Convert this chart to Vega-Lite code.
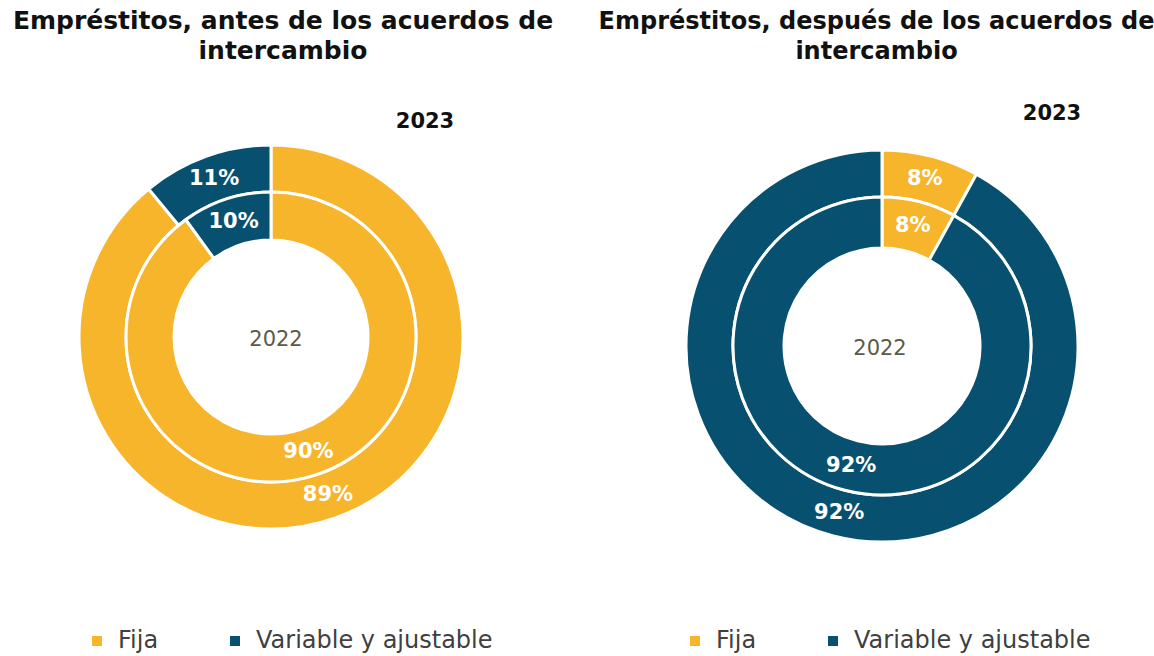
{
  "$schema": "https://vega.github.io/schema/vega-lite/v6.json",
  "background": "white",
  "padding": {"left": 12, "top": 9, "right": 0, "bottom": 0},
  "data": {"values": [
    {"panel": "antes", "year": 2023, "tipo": "Fija", "share": 0.89},
    {"panel": "antes", "year": 2023, "tipo": "Variable y ajustable", "share": 0.11},
    {"panel": "antes", "year": 2022, "tipo": "Fija", "share": 0.90},
    {"panel": "antes", "year": 2022, "tipo": "Variable y ajustable", "share": 0.10},
    {"panel": "despues", "year": 2023, "tipo": "Fija", "share": 0.08},
    {"panel": "despues", "year": 2023, "tipo": "Variable y ajustable", "share": 0.92},
    {"panel": "despues", "year": 2022, "tipo": "Fija", "share": 0.08},
    {"panel": "despues", "year": 2022, "tipo": "Variable y ajustable", "share": 0.92}
  ]},
  "spacing": 44,
  "hconcat": [
    {
      "title": {"text": ["Empréstitos, antes de los acuerdos de", "intercambio"], "dx": 0, "offset": 47},
      "vconcat": [
        {
          "title": {"text": "2023", "dx": 154, "fontSize": 21, "offset": 7, "lineHeight": 22},
          "width": 384,
          "height": 384,
          "transform": [{"filter": "datum.panel === 'antes'"}],
          "layer": [
            {
              "transform": [{"filter": "datum.year === 2023"}],
              "mark": {"type": "arc", "radius": 192, "radius2": 145, "stroke": "white", "strokeWidth": 3},
              "encoding": {
                "theta": {"field": "share", "type": "quantitative", "stack": true},
                "color": {"field": "tipo", "type": "nominal", "scale": {"domain": ["Fija", "Variable y ajustable"], "range": ["#F7B52B", "#08506F"]}, "legend": {"title": null, "orient": "none", "legendX": 6, "legendY": 484}},
                "order": {"field": "tipo"}
              }
            },
            {
              "transform": [{"filter": "datum.year === 2022"}],
              "mark": {"type": "arc", "radius": 145, "radius2": 97, "stroke": "white", "strokeWidth": 3},
              "encoding": {
                "theta": {"field": "share", "type": "quantitative", "stack": true},
                "color": {"field": "tipo", "type": "nominal", "scale": {"domain": ["Fija", "Variable y ajustable"], "range": ["#F7B52B", "#08506F"]}, "legend": {"title": null, "orient": "none", "legendX": 6, "legendY": 484}},
                "order": {"field": "tipo"}
              }
            },
            {
              "transform": [{"filter": "datum.year === 2023"}],
              "mark": {"type": "text", "radius": 168, "fontSize": 21, "fontWeight": "bold", "color": "white"},
              "encoding": {
                "theta": {"field": "share", "type": "quantitative", "stack": true},
                "detail": {"field": "tipo"},
                "order": {"field": "tipo"},
                "text": {"field": "share", "type": "quantitative", "format": ".0%"}
              }
            },
            {
              "transform": [{"filter": "datum.year === 2022"}],
              "mark": {"type": "text", "radius": 121, "fontSize": 21, "fontWeight": "bold", "color": "white"},
              "encoding": {
                "theta": {"field": "share", "type": "quantitative", "stack": true},
                "detail": {"field": "tipo"},
                "order": {"field": "tipo"},
                "text": {"field": "share", "type": "quantitative", "format": ".0%"}
              }
            },
            {
              "transform": [{"filter": "datum.year === 2022 && datum.tipo === 'Fija'"}],
              "mark": {"type": "text", "fontSize": 21, "color": "#5B5B48", "dx": 5, "dy": 3},
              "encoding": {"text": {"field": "year", "type": "nominal"}}
            }
          ]
        }
      ]
    },
    {
      "title": {"text": ["Empréstitos, después de los acuerdos de", "intercambio"], "dx": -9, "offset": 39, "fontSize": 24},
      "vconcat": [
        {
          "title": {"text": "2023", "dx": 170, "fontSize": 21, "offset": 20, "lineHeight": 22},
          "width": 392,
          "height": 402,
          "transform": [{"filter": "datum.panel === 'despues'"}],
          "layer": [
            {
              "transform": [{"filter": "datum.year === 2023"}],
              "mark": {"type": "arc", "radius": 196, "radius2": 149, "stroke": "white", "strokeWidth": 3},
              "encoding": {
                "theta": {"field": "share", "type": "quantitative", "stack": true},
                "color": {"field": "tipo", "type": "nominal", "scale": {"domain": ["Fija", "Variable y ajustable"], "range": ["#F7B52B", "#08506F"]}, "legend": {"title": null, "orient": "none", "legendX": -3, "legendY": 484}},
                "order": {"field": "tipo"}
              }
            },
            {
              "transform": [{"filter": "datum.year === 2022"}],
              "mark": {"type": "arc", "radius": 149, "radius2": 98, "stroke": "white", "strokeWidth": 3},
              "encoding": {
                "theta": {"field": "share", "type": "quantitative", "stack": true},
                "color": {"field": "tipo", "type": "nominal", "scale": {"domain": ["Fija", "Variable y ajustable"], "range": ["#F7B52B", "#08506F"]}, "legend": {"title": null, "orient": "none", "legendX": -3, "legendY": 484}},
                "order": {"field": "tipo"}
              }
            },
            {
              "transform": [{"filter": "datum.year === 2023"}],
              "mark": {"type": "text", "radius": 172, "fontSize": 21, "fontWeight": "bold", "color": "white"},
              "encoding": {
                "theta": {"field": "share", "type": "quantitative", "stack": true},
                "detail": {"field": "tipo"},
                "order": {"field": "tipo"},
                "text": {"field": "share", "type": "quantitative", "format": ".0%"}
              }
            },
            {
              "transform": [{"filter": "datum.year === 2022"}],
              "mark": {"type": "text", "radius": 124, "fontSize": 21, "fontWeight": "bold", "color": "white"},
              "encoding": {
                "theta": {"field": "share", "type": "quantitative", "stack": true},
                "detail": {"field": "tipo"},
                "order": {"field": "tipo"},
                "text": {"field": "share", "type": "quantitative", "format": ".0%"}
              }
            },
            {
              "transform": [{"filter": "datum.year === 2022 && datum.tipo === 'Fija'"}],
              "mark": {"type": "text", "fontSize": 21, "color": "#5B5B48", "dx": -2, "dy": 3},
              "encoding": {"text": {"field": "year", "type": "nominal"}}
            }
          ]
        }
      ]
    }
  ],
  "resolve": {"scale": {"color": "independent", "theta": "independent"}},
  "config": {
    "font": "DejaVu Sans",
    "view": {"stroke": null},
    "title": {"fontSize": 25, "fontWeight": "bold", "color": "#111111", "anchor": "middle", "lineHeight": 30},
    "legend": {
      "direction": "horizontal",
      "symbolType": "square",
      "symbolSize": 100,
      "symbolStrokeWidth": 0,
      "labelFontSize": 24,
      "labelColor": "#404040",
      "labelOffset": 9,
      "labelLimit": 400,
      "columnPadding": 64
    }
  }
}
